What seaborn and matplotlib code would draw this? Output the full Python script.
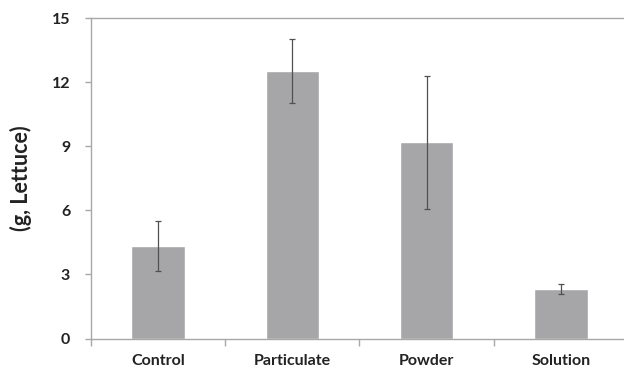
import numpy as np
import pandas as pd
import seaborn as sns
import matplotlib.pyplot as plt

# data
categories = ['Control', 'Particulate', 'Powder', 'Solution']
means = [4.33, 12.52, 9.19, 2.31]
errors = [1.15, 1.50, 3.12, 0.22]

df = pd.DataFrame({'treatment': categories, 'mass': means})

sns.set_style('white')
plt.rcParams['font.family'] = ['Lato', 'DejaVu Sans']

fig = plt.figure(figsize=(6.24, 3.68), dpi=100)
ax = fig.add_axes([0.1458, 0.080, 0.8606, 0.871])

sns.barplot(
    data=df
    , x='treatment'
    , y='mass'
    , color='#a6a6a8'
    , saturation=1
    , width=0.4
    , errorbar=None
    , ax=ax
)
ax.errorbar(
    np.arange(len(categories)), means, yerr=errors
    , fmt='none', ecolor='#505050', elinewidth=0.9
    , capsize=2, capthick=0.9
)

ax.set_xlim(-0.5, len(categories) - 0.5)
ax.set_ylim(0, 15)
ax.set_yticks([0, 3, 6, 9, 12, 15])
ax.set_xticks(np.arange(len(categories)))
ax.set_xticks(np.arange(len(categories) + 1) - 0.5, minor=True)

for s in ['left', 'bottom', 'top']:
    ax.spines[s].set_color('#a8a8a8')
    ax.spines[s].set_linewidth(1)
ax.spines['right'].set_visible(False)

ax.tick_params(axis='y', which='major', left=True, length=4, width=1,
               color='#a8a8a8', pad=11, labelsize=11.5)
ax.tick_params(axis='x', which='major', bottom=False, length=0, pad=11,
               labelsize=11.5)
ax.tick_params(axis='x', which='minor', bottom=True, length=5, width=1,
               color='#a8a8a8')
for lab in ax.get_xticklabels() + ax.get_yticklabels():
    lab.set_fontweight('bold')
    lab.set_color('#222222')

ax.set_xlabel('')
ax.set_ylabel('(g, Lettuce)', fontsize=15.5, fontweight='bold', color='#222222')
ax.yaxis.set_label_coords(-0.11, 0.5)

fig.savefig('out.png', dpi=100)
